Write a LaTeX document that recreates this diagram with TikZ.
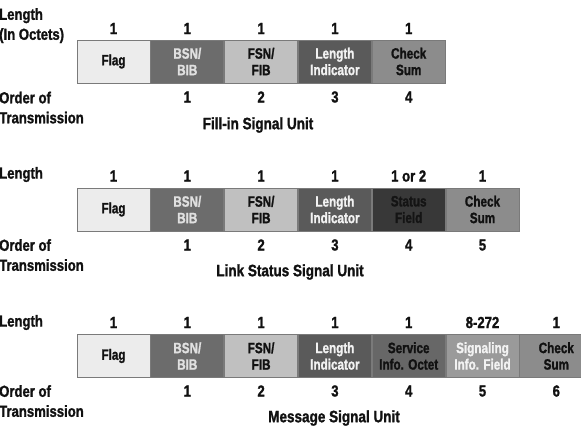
\documentclass[tikz,border=0pt]{standalone}
\usepackage{fontspec}
\usetikzlibrary{positioning}
\setmainfont{Liberation Sans}[FakeStretch=0.82, BoldFeatures={FakeBold=1.3}]
\definecolor{cflag}{HTML}{ECECEC}
\definecolor{cbsn}{HTML}{6C6C6C}
\definecolor{cfsn}{HTML}{C0C0C0}
\definecolor{cli}{HTML}{5A5A5A}
\definecolor{ccs}{HTML}{8C8C8C}
\definecolor{cst}{HTML}{383838}
\definecolor{csio}{HTML}{676767}
\definecolor{csif}{HTML}{9A9A9A}
\definecolor{cbord}{HTML}{7A7A7A}
\definecolor{ctxt}{HTML}{111111}
\newfontfamily\boxfont{Liberation Sans}[FakeStretch=0.78, BoldFeatures={FakeBold=1.3}]
\begin{document}
\begin{tikzpicture}[x=1pt,y=-1pt,
  cell/.style={draw=cbord, line width=0.8pt, minimum width=73pt, minimum height=43pt,
    inner sep=0pt, align=center, text=ctxt,
    font=\boxfont\fontsize{15}{16.5}\selectfont\bfseries},
  lbl/.style={anchor=west, inner sep=0pt, text=ctxt, align=left,
    font=\fontsize{16}{20}\selectfont\bfseries},
  num/.style={inner sep=0pt, text=ctxt, font=\fontsize{16}{16}\selectfont\bfseries},
  ttl/.style={inner sep=0pt, text=ctxt, font=\fontsize{16.5}{17}\selectfont\bfseries}]
\useasboundingbox (0,0) rectangle (581,429);
\clip (0,0) rectangle (581,429);
\fill[white] (0,0) rectangle (581,429);

% ---------- Row 1: Fill-in Signal Unit ----------
\node[lbl, anchor=north west] (l1) at (-1,8) {Length\\(In Octets)};
\node[cell, fill=cflag] (a1) at (113.5,61.5) {Flag};
\node[cell, fill=cbsn, text=white!88!black, right=0pt of a1] (a2) {BSN/\\BIB};
\node[cell, fill=cfsn, right=0pt of a2] (a3) {FSN/\\FIB};
\node[cell, fill=cli, text=white!95!black, right=0pt of a3] (a4) {Length\\Indicator};
\node[cell, fill=ccs, right=0pt of a4] (a5) {Check\\Sum};
\foreach \i/\t in {1/1,2/1,3/1,4/1,5/1}{
  \node[num] (al\i) at ([yshift=33pt]a\i.center) {\t};}
\foreach \i/\t in {2/1,3/2,4/3,5/4}{
  \node[num] (ao\i) at ([yshift=-35.5pt]a\i.center) {\t};}
\node[lbl, anchor=north west] (o1) at (-1,91.5) {Order of\\Transmission};
\node[ttl] (t1) at (258,125) {Fill-in Signal Unit};

% ---------- Row 2: Link Status Signal Unit ----------
\node[lbl] (l2) at (-1,174.5) {Length};
\node[cell, fill=cflag] (b1) at (113.5,209.5) {Flag};
\node[cell, fill=cbsn, text=white!88!black, right=0pt of b1] (b2) {BSN/\\BIB};
\node[cell, fill=cfsn, right=0pt of b2] (b3) {FSN/\\FIB};
\node[cell, fill=cli, text=white!95!black, right=0pt of b3] (b4) {Length\\Indicator};
\node[cell, fill=cst, text=black!92, right=0pt of b4] (b5) {Status\\Field};
\node[cell, fill=ccs, right=0pt of b5] (b6) {Check\\Sum};
\foreach \i/\t in {1/1,2/1,3/1,4/1,5/1 or 2,6/1}{
  \node[num] (bl\i) at ([yshift=33.5pt]b\i.center) {\t};}
\foreach \i/\t in {2/1,3/2,4/3,5/4,6/5}{
  \node[num] (bo\i) at ([yshift=-35.5pt]b\i.center) {\t};}
\node[lbl, anchor=north west] (o2) at (-1,239) {Order of\\Transmission};
\node[ttl] (t2) at (290,272) {Link Status Signal Unit};

% ---------- Row 3: Message Signal Unit ----------
\node[lbl] (l3) at (-1,322.5) {Length};
\node[cell, fill=cflag] (c1) at (113.5,356) {Flag};
\node[cell, fill=cbsn, text=white!88!black, right=0pt of c1] (c2) {BSN/\\BIB};
\node[cell, fill=cfsn, right=0pt of c2] (c3) {FSN/\\FIB};
\node[cell, fill=cli, text=white!95!black, right=0pt of c3] (c4) {Length\\Indicator};
\node[cell, fill=csio, right=0pt of c4] (c5) {Service\\Info. Octet};
\node[cell, fill=csif, text=white!95!black, right=0pt of c5] (c6) {Signaling\\Info. Field};
\node[cell, fill=ccs, right=0pt of c6] (c7) {Check\\Sum};
\foreach \i/\t in {1/1,2/1,3/1,4/1,5/1,6/8-272,7/1}{
  \node[num] (cl\i) at ([yshift=33.5pt]c\i.center) {\t};}
\foreach \i/\t in {2/1,3/2,4/3,5/4,6/5,7/6}{
  \node[num] (co\i) at ([yshift=-35pt]c\i.center) {\t};}
\node[lbl, anchor=north west] (o3) at (-1,385) {Order of\\Transmission};
\node[ttl] (t3) at (334,418) {Message Signal Unit};
\end{tikzpicture}
\end{document}
